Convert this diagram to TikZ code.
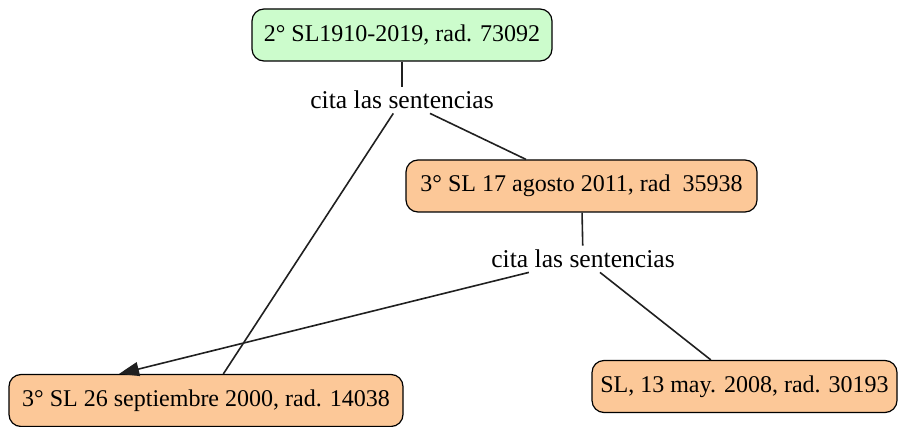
\documentclass[tikz,border=0pt]{standalone}
\usepackage{fontspec}
\setmainfont{Liberation Serif}
\definecolor{caseGreen}{HTML}{CCFCCC}
\definecolor{caseOrange}{HTML}{FCC898}
\definecolor{lineGray}{HTML}{202020}
\usepackage{tikz}
\usetikzlibrary{arrows.meta}

\begin{document}
\begin{tikzpicture}[
        x=0.5pt, y=-0.5pt,
        every node/.style={font=\fontsize{12}{14}\selectfont, align=center},
        casebox/.style={draw=black, line width=0.6pt, rounded corners=6pt, minimum height=26pt, inner sep=3pt},
        citelabel/.style={inner sep=2pt, font=\fontsize{12.8}{14}\selectfont},
        link/.style={lineGray, line width=0.8pt}
      ]
        \useasboundingbox (0,0) rectangle (898,427);

        \node[casebox, fill=caseGreen, minimum width=150pt] (sl2019) at (402,35) {2° SL1910-2019, rad. 73092};
        \node[citelabel] (cita1) at (402,100) {cita las sentencias};
        \node[casebox, fill=caseOrange, minimum width=175.5pt] (sl2011) at (581.5,186) {3° SL 17 agosto 2011, rad\enspace35938};
        \node[citelabel] (cita2) at (583,259) {cita las sentencias};
        \node[casebox, fill=caseOrange, minimum width=197pt] (sl2000) at (206,400.5) {3° SL 26 septiembre 2000, rad. 14038};
        \node[casebox, fill=caseOrange, minimum width=152.5pt] (sl2008) at (744.5,386.5) {SL, 13 may. 2008, rad. 30193};

        \draw[link] (sl2019) -- (cita1);
        \draw[link] (cita1) -- (sl2000);
        \draw[link] (cita1) -- (sl2011);
        \draw[link] (sl2011) -- (cita2);
        \draw[link, -{Triangle[length=10pt, width=7pt]}] (cita2) -- ([xshift=-43.5pt]sl2000.north);
        \draw[link] (cita2) -- (sl2008);
      \end{tikzpicture}
\end{document}
